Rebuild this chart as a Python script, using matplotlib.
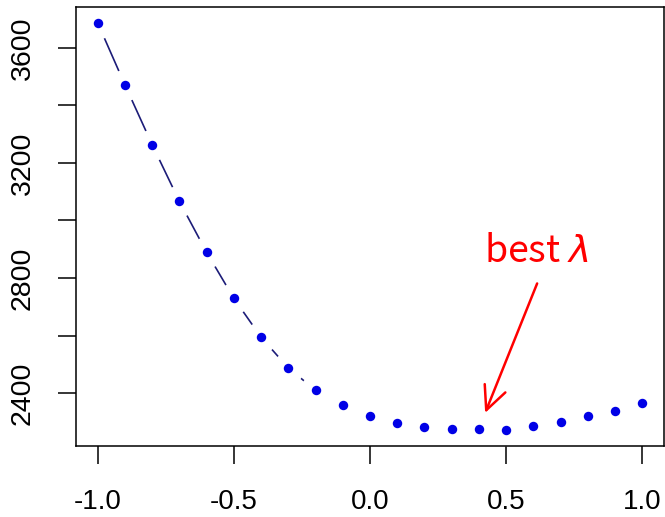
import matplotlib
matplotlib.use("Agg")
import matplotlib.pyplot as plt

# lambda grid and the score at each value
lam = [-1.0, -0.9, -0.8, -0.7, -0.6, -0.5, -0.4, -0.3, -0.2, -0.1, 0.0,
       0.1, 0.2, 0.3, 0.4, 0.5, 0.6, 0.7, 0.8, 0.9, 1.0]
score = [3686, 3471, 3263, 3066, 2889, 2729, 2594, 2487, 2410, 2358, 2320,
         2296, 2281, 2274, 2274, 2273, 2287, 2301, 2320, 2339, 2364]

xticks = [-1.0, -0.5, 0.0, 0.5, 1.0]
xtick_labels = ["-1.0", "-0.5", "0.0", "0.5", "1.0"]
yticks = [2400, 2600, 2800, 3000, 3200, 3400, 3600]
ytick_labels = ["2400", "", "2800", "", "3200", "", "3600"]

best_x, best_y = 0.423, 2331

plt.rcParams["font.family"] = ["Liberation Sans", "DejaVu Sans"]

fig = plt.figure(figsize=(6.65, 5.17), dpi=100)
ax = fig.add_axes([76 / 665, 71 / 517, 588 / 665, 439 / 517])

# R type="b": line broken around each point
ax.plot(lam, score, color="#1c1c78", lw=1.2, zorder=2)
ax.plot(lam, score, "o", ms=23, color="white", mec="none", zorder=2.1)
ax.plot(lam, score, "o", ms=6.8, color="#0000e6", mec="none", zorder=2.2)

ax.set_xlim(-1.08, 1.08)
ax.set_ylim(2216, 3742)

ax.set_xticks(xticks)
ax.set_xticklabels(xtick_labels, fontsize=20)
ax.set_yticks(yticks)
ax.set_yticklabels(ytick_labels, fontsize=20.5, rotation=90, va="center")
ax.tick_params(axis="x", length=13, width=1.1, pad=18)
ax.tick_params(axis="y", length=13, width=1.1, pad=16)
for sp in ax.spines.values():
    sp.set_linewidth(1.1)

# annotation
ax.text(0.61, 2893, "best $\\lambda$", color="red", fontsize=27,
        ha="center", va="center", family=["Noto Sans CJK JP", "DejaVu Sans"])
ax.annotate("", xy=(best_x, best_y), xytext=(0.614, 2781),
            arrowprops=dict(arrowstyle="->,head_length=0.85,head_width=0.4",
                            color="red", lw=1.8, mutation_scale=20,
                            shrinkA=0, shrinkB=0))

fig.savefig("out.png", dpi=100)
